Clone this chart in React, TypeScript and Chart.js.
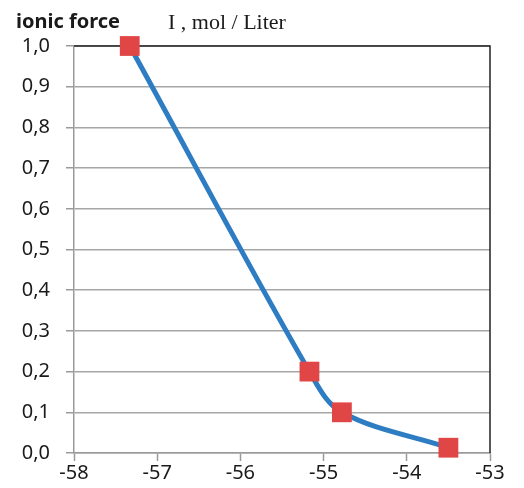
import React, { useEffect, useRef } from "react";
import { Chart, registerables } from "chart.js";

Chart.register(...registerables);

const potentials = [-57.33, -55.17, -54.78, -53.5];
const ionicForce = [1.0, 0.2, 0.1, 0.013];
const yTitle = "ionic force";
const unitText = "I , mol / Liter";

const textPlugin = {
  id: "texts",
  afterDraw(chart: any) {
    const ctx = chart.ctx;
    ctx.save();
    ctx.fillStyle = "#1a1a1a";
    ctx.textBaseline = "alphabetic";
    ctx.textAlign = "left";
    ctx.font = "bold 20px 'Noto Sans'";
    ctx.fillText(yTitle, 16, 28);
    ctx.font = "22px 'Liberation Serif'";
    ctx.fillText(unitText, 168, 29);
    ctx.restore();
  },
  beforeDatasetsDraw(chart: any) {
    const ctx = chart.ctx;
    const a = chart.chartArea;
    ctx.save();
    ctx.strokeStyle = "#222";
    ctx.lineWidth = 1.5;
    ctx.beginPath();
    ctx.moveTo(a.left, a.top);
    ctx.lineTo(a.right, a.top);
    ctx.lineTo(a.right, a.bottom);
    ctx.stroke();
    ctx.restore();
  },
};

export default function App() {
  const ref = useRef<HTMLCanvasElement>(null);
  useEffect(() => {
    if (!ref.current) return;
    const chart = new Chart(ref.current, {
      type: "scatter",
      data: {
        datasets: [
          {
            data: potentials.map((x, i) => ({ x, y: ionicForce[i] })),
            showLine: true,
            clip: false,
            borderColor: "#2e7dc2",
            borderWidth: 5,
            tension: 0.35,
            pointStyle: "rect",
            pointRadius: 14,
            pointHoverRadius: 14,
            pointBackgroundColor: "#e04646",
            pointBorderColor: "#e04646",
            pointBorderWidth: 0,
          } as any,
        ],
      },
      options: {
        animation: false,
        responsive: true,
        maintainAspectRatio: false,
        layout: { padding: { top: 46, right: 34, left: 0, bottom: 0 } },
        plugins: { legend: { display: false }, tooltip: { enabled: false } },
        scales: {
          x: {
            type: "linear",
            min: -58,
            max: -53,
            afterFit: (s: any) => {
              s.height = 35;
            },
            ticks: {
              stepSize: 1,
              color: "#1a1a1a",
              font: { family: "'Noto Sans'", size: 20 },
              padding: 0,
            },
            grid: {
              drawOnChartArea: false,
              tickLength: 8,
              tickColor: "#9a9a9a",
              tickWidth: 1.5,
            },
            border: { color: "#9a9a9a", width: 1.5 },
          },
          y: {
            type: "linear",
            min: 0,
            max: 1,
            afterFit: (s: any) => {
              s.width = 74;
            },
            ticks: {
              stepSize: 0.1,
              color: "#1a1a1a",
              font: { family: "'Noto Sans'", size: 20 },
              padding: 16,
              callback: (v: any) => Number(v).toFixed(1).replace(".", ","),
            },
            grid: {
              color: "#a6a6a6",
              lineWidth: 1.5,
              tickLength: 8,
              tickColor: "#9a9a9a",
            },
            border: { color: "#9a9a9a", width: 1.5 },
          },
        },
      },
      plugins: [textPlugin],
    });
    return () => chart.destroy();
  }, []);
  return (
    <div style={{ position: "fixed", left: 0, top: 0, width: 524, height: 488, background: "#fff" }}>
      <canvas ref={ref} />
    </div>
  );
}
